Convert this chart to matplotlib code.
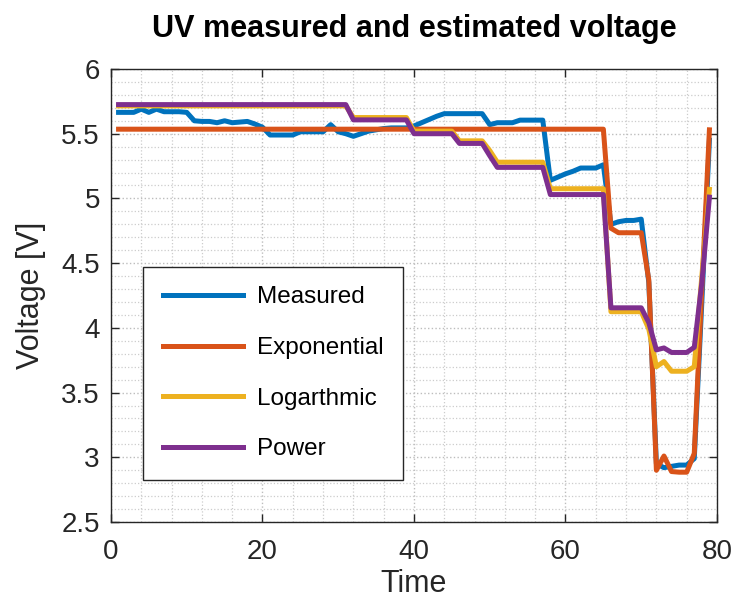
import matplotlib
matplotlib.use('Agg')
import matplotlib.pyplot as plt
from matplotlib.ticker import MultipleLocator, FormatStrFormatter
import numpy as np

plt.rcParams['font.family'] = ['Liberation Sans', 'DejaVu Sans']

# time steps and voltages
time = np.arange(1, 80)

measured = [5.665, 5.665, 5.665, 5.69, 5.665, 5.69, 5.67, 5.67, 5.67, 5.665,
            5.60, 5.595, 5.595, 5.585, 5.60, 5.585, 5.59, 5.595, 5.575, 5.55,
            5.49, 5.49, 5.49, 5.49, 5.515, 5.515, 5.515, 5.515, 5.57, 5.515,
            5.50, 5.48, 5.50, 5.52, 5.53, 5.54, 5.545, 5.545, 5.545, 5.56,
            5.585, 5.61, 5.635, 5.655, 5.655, 5.655, 5.655, 5.655, 5.655, 5.57,
            5.585, 5.585, 5.585, 5.605, 5.605, 5.605, 5.605, 5.14, 5.165, 5.19,
            5.21, 5.235, 5.235, 5.235, 5.26, 4.80, 4.82, 4.83, 4.83, 4.84,
            4.35, 2.95, 2.92, 2.93, 2.94, 2.94, 2.99, 4.2, 5.45]

exponential = ([5.535] * 65 + [4.77, 4.735, 4.735, 4.735, 4.735,
               4.37, 2.90, 3.01, 2.89, 2.885, 2.885, 3.03, 4.3, 5.53])

logarithmic = ([5.715] * 31 + [5.625] * 8 + [5.52] * 6 + [5.445] * 4 + [5.37]
               + [5.28] * 7 + [5.075] * 8 + [4.125] * 5
               + [3.99, 3.70, 3.74, 3.665, 3.665, 3.665, 3.70, 4.4, 5.07])

power = ([5.725] * 31 + [5.607] * 8 + [5.50] * 6 + [5.425] * 4 + [5.33]
         + [5.24] * 7 + [5.03] * 8 + [4.155] * 5
         + [4.04, 3.83, 3.845, 3.81, 3.81, 3.81, 3.85, 4.35, 5.01])

series = [('Measured', measured, '#0072BD'),
          ('Exponential', exponential, '#D95319'),
          ('Logarthmic', logarithmic, '#EDB120'),
          ('Power', power, '#7E2F8E')]

fig = plt.figure(figsize=(7.35, 5.99), dpi=100)
ax = fig.add_axes([0.151, 0.1285, 0.8245, 0.7563])

for name, vals, col in series:
    ax.plot(time, vals, color=col, linewidth=3.6, label=name)

ax.set_xlim(0, 80)
ax.set_ylim(2.5, 6)
ax.xaxis.set_major_locator(MultipleLocator(20))
ax.xaxis.set_minor_locator(MultipleLocator(4))
ax.yaxis.set_major_locator(MultipleLocator(0.5))
ax.yaxis.set_minor_locator(MultipleLocator(0.1))
ax.yaxis.set_major_formatter(FormatStrFormatter('%g'))

dark = '#262626'
ax.tick_params(which='major', direction='in', length=6, width=1, top=True, right=True,
               labelsize=20, colors=dark)
ax.tick_params(axis='x', which='major', pad=12)
ax.tick_params(axis='y', which='major', pad=8)
ax.tick_params(which='minor', length=0, top=True, right=True)
for s in ax.spines.values():
    s.set_color(dark)
    s.set_linewidth(1)

# grid
ax.grid(which='major', color='#bdbdbd', linestyle=':', linewidth=1)
ax.grid(which='minor', color='#cccccc', linestyle=':', linewidth=0.9)
ax.set_axisbelow(True)

ax.set_title('UV measured and estimated voltage', fontsize=22, fontweight='bold', pad=23)
ax.set_xlabel('Time', fontsize=22, color=dark, labelpad=3)
ax.set_ylabel('Voltage [V]', fontsize=22, color=dark, labelpad=11)

leg = ax.legend(loc='lower left', bbox_to_anchor=(0.053, 0.093), fontsize=17.5,
                handlelength=3.3, handletextpad=0.6, labelspacing=1.18,
                borderpad=0.8, fancybox=False, framealpha=1, borderaxespad=0)
leg.get_frame().set_edgecolor(dark)
leg.get_frame().set_linewidth(1)

fig.savefig('out.png', dpi=100)
